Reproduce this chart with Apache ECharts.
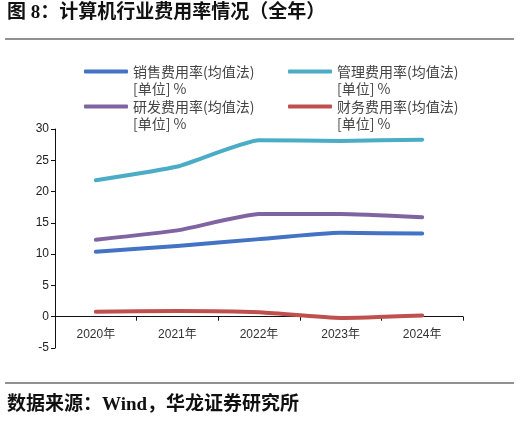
<!DOCTYPE html>
<html>
<head>
<meta charset="utf-8">
<script src="https://cdn.jsdelivr.net/npm/echarts@6/dist/echarts.min.js"></script>
<style>
  html, body { margin: 0; padding: 0; background: #fff; }
  #chart { width: 523px; height: 424px; }
</style>
</head>
<body>
<div id="chart"></div>
<script>
// 年份
var years = ['2020年', '2021年', '2022年', '2023年', '2024年'];
// 各项费用率（%）
var salesRate = [10.4, 11.3, 12.4, 13.4, 13.3];     // 销售
var adminRate = [21.8, 24.0, 28.2, 28.1, 28.3];     // 管理
var rdRate = [12.3, 13.8, 16.4, 16.4, 15.9];        // 研发
var financeRate = [0.8, 0.9, 0.7, -0.2, 0.2];       // 财务
var yTicks = { min: -5, max: 30, step: 5 };

var names = ['销售费用率(均值法)', '管理费用率(均值法)', '研发费用率(均值法)', '财务费用率(均值法)'];
var colors = ['#4472C4', '#4BACC6', '#8064A2', '#C0504D'];
var cjk = '"Liberation Sans", "Noto Sans CJK SC", sans-serif';
var serifBold = '"Liberation Serif", "Noto Sans CJK SC", serif';

function makeLegend(name, left, top) {
    return {
        data: [name],
        left: left,
        top: top,
        padding: 0,
        itemWidth: 44,
        itemHeight: 4,
        icon: 'roundRect',
        // 空行在上，让图标对齐第一行文字
        formatter: function (n) { return '\n' + n + '\n[单位] %'; },
        textStyle: {
            fontFamily: '"Noto Sans CJK SC", sans-serif',
            fontSize: 14,
            color: '#444',
            lineHeight: 17
        }
    };
}

function makeLine(idx, values) {
    return {
        name: names[idx],
        type: 'line',
        data: values,
        symbol: 'none',
        smooth: 0.15,
        lineStyle: { width: 4, color: colors[idx], cap: 'round', join: 'round' },
        itemStyle: { color: colors[idx] }
    };
}

var chart = echarts.init(document.getElementById('chart'));
chart.setOption({
    animation: false,
    backgroundColor: '#fff',
    graphic: [
        {
            type: 'text', left: 7, top: 4,
            style: { text: '图 8：计算机行业费用率情况（全年）', font: 'bold 19px ' + serifBold, fill: '#111' }
        },
        {
            type: 'line', shape: { x1: 5, y1: 39, x2: 514, y2: 39 },
            style: { stroke: '#222', lineWidth: 1 }
        },
        {
            type: 'line', shape: { x1: 5, y1: 383, x2: 514, y2: 383 },
            style: { stroke: '#222', lineWidth: 1 }
        },
        {
            type: 'text', left: 7, top: 396,
            style: { text: '数据来源：Wind，华龙证券研究所', font: 'bold 19px ' + serifBold, fill: '#111' }
        }
    ],
    legend: [
        makeLegend(names[0], 84, 46),
        makeLegend(names[1], 288, 46),
        makeLegend(names[2], 84, 81),
        makeLegend(names[3], 288, 81)
    ],
    grid: { left: 55, right: 60, top: 129, bottom: 76, containLabel: false },
    xAxis: {
        type: 'category',
        data: years,
        boundaryGap: true,
        axisLine: { onZero: true, lineStyle: { color: '#111', width: 1 } },
        axisTick: { show: true, length: 4, lineStyle: { color: '#111' } },
        // 标签跟随零轴位置
        axisLabel: { fontFamily: cjk, fontSize: 12, color: '#333', margin: -19 },
        splitLine: { show: false }
    },
    yAxis: {
        type: 'value',
        min: yTicks.min,
        max: yTicks.max,
        interval: yTicks.step,
        axisLine: { show: true, lineStyle: { color: '#111', width: 1 } },
        axisTick: { show: true, length: 4, lineStyle: { color: '#111' } },
        axisLabel: { fontFamily: cjk, fontSize: 12, color: '#222', margin: 6 },
        splitLine: { show: false }
    },
    series: [
        makeLine(0, salesRate),
        makeLine(1, adminRate),
        makeLine(2, rdRate),
        makeLine(3, financeRate)
    ]
});
</script>
</body>
</html>
